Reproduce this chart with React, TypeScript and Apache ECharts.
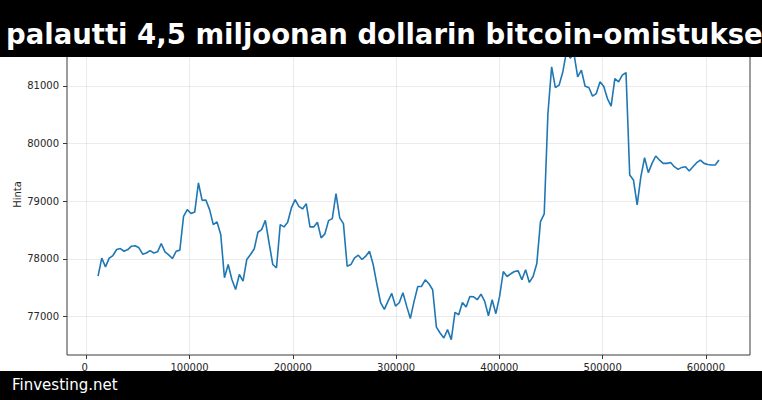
import { useEffect, useRef } from "react";
import * as echarts from "echarts";

const LINE = "#1f77b4";
const TEXT = "#262626";
const SPINE = "#3a3a3a";
const GRID = "rgba(0,0,0,0.08)";
const FONT = "'DejaVu Sans', sans-serif";

const TITLE = "palautti 4,5 miljoonan dollarin bitcoin-omistukse";
const SOURCE = "Finvesting.net";
const Y_NAME = "Hinta";

// x-arvot (sekunteja), luettu kuvasta: tasaväli 3600
const X_VALUES = [
  11400, 15000, 18600, 22200, 25800, 29400, 33000, 36600, 40200, 43800,
  47400, 51000, 54600, 58200, 61800, 65400, 69000, 72600, 76200, 79800,
  83400, 87000, 90600, 94200, 97800, 101400, 105000, 108600, 112200, 115800,
  119400, 123000, 126600, 130200, 133800, 137400, 141000, 144600, 148200, 151800,
  155400, 159000, 162600, 166200, 169800, 173400, 177000, 180600, 184200, 187800,
  191400, 195000, 198600, 202200, 205800, 209400, 213000, 216600, 220200, 223800,
  227400, 231000, 234600, 238200, 241800, 245400, 249000, 252600, 256200, 259800,
  263400, 267000, 270600, 274200, 277800, 281400, 285000, 288600, 292200, 295800,
  299400, 303000, 306600, 310200, 313800, 317400, 321000, 324600, 328200, 331800,
  335400, 339000, 342600, 346200, 349800, 353400, 357000, 360600, 364200, 367800,
  371400, 375000, 378600, 382200, 385800, 389400, 393000, 396600, 400200, 403800,
  407400, 411000, 414600, 418200, 421800, 425400, 429000, 432600, 436200, 439800,
  443400, 447000, 450600, 454200, 457800, 461400, 465000, 468600, 472200, 475800,
  479400, 483000, 486600, 490200, 493800, 497400, 501000, 504600, 508200, 511800,
  515400, 519000, 522600, 526200, 529800, 533400, 537000, 540600, 544200, 547800,
  551400, 555000, 558600, 562200, 565800, 569400, 573000, 576600, 580200, 583800,
  587400, 591000, 594600, 598200, 601800, 605400, 609000, 612600,
];

const PRICES = [
  77698, 78010, 77860, 78010, 78056, 78160, 78177, 78130, 78160, 78218,
  78225, 78190, 78080, 78100, 78140, 78100, 78120, 78264, 78120, 78068,
  78004, 78130, 78150, 78737, 78853, 78784, 78810, 79315, 79014, 79020,
  78853, 78593, 78640, 78420, 77670, 77900, 77640, 77467, 77727, 77611,
  77987, 78074, 78170, 78460, 78506, 78668, 78276, 77900, 77843, 78593,
  78553, 78633, 78882, 79026, 78910, 78864, 78957, 78553, 78553, 78633,
  78363, 78431, 78662, 78697, 79130, 78709, 78610, 77871, 77900, 78016,
  78062, 77987, 78045, 78131, 77900, 77554, 77237, 77121, 77265, 77398,
  77178, 77237, 77410, 77178, 76965, 77260, 77519, 77519, 77635, 77566,
  77462, 76815, 76711, 76625, 76770, 76597, 77069, 77029, 77242, 77161,
  77346, 77340, 77289, 77387, 77260, 77012, 77289, 77047, 77346, 77779,
  77692, 77739, 77779, 77790, 77635, 77808, 77589, 77692, 77912, 78645,
  78778, 80520, 81329, 80971, 81012, 81242, 81600, 81480, 81560, 81156,
  81272, 80994, 80971, 80821, 80867, 81069, 80994, 80780, 80648, 81127,
  81069, 81185, 81231, 79454, 79368, 78935, 79424, 79753, 79494, 79655,
  79783, 79713, 79655, 79655, 79672, 79597, 79551, 79585, 79597, 79523,
  79597, 79667, 79713, 79655, 79637, 79626, 79626, 79713,
];

const X_TICKS = [0, 100000, 200000, 300000, 400000, 500000, 600000];
const Y_TICKS = [77000, 78000, 79000, 80000, 81000];
const X_MIN = -18660;
const X_MAX = 642660;
const Y_MIN = 76330;
const Y_MAX = 81900;

const GRID_LEFT = 67;
const GRID_RIGHT = 12;
const GRID_TOP = 34;
const GRID_BOTTOM = 45;
const HEIGHT = 400;

export default function App() {
  const elRef = useRef<HTMLDivElement>(null);

  useEffect(() => {
    const el = elRef.current;
    if (!el) return;
    const chart = echarts.init(el, undefined, { renderer: "svg" });

    const labelStyle = { color: TEXT, fontSize: 10, fontFamily: FONT };

    chart.setOption({
      animation: false,
      backgroundColor: "#ffffff",
      textStyle: { fontFamily: FONT },
      // yläreuna jää otsikkopalkin alle, kuten alkuperäisessä
      grid: {
        left: GRID_LEFT,
        right: GRID_RIGHT,
        top: GRID_TOP,
        bottom: GRID_BOTTOM,
        outerBoundsMode: "none",
        containLabel: false,
        show: true,
        borderColor: SPINE,
        borderWidth: 1,
      },
      xAxis: {
        type: "value",
        min: X_MIN,
        max: X_MAX,
        axisLine: { show: false, onZero: false },
        axisTick: { show: true, length: 4, lineStyle: { color: SPINE }, customValues: X_TICKS },
        // nollan label ei piirry customValuesin kautta -> lisätään grafiikkana
        axisLabel: {
          ...labelStyle,
          margin: 7,
          hideOverlap: false,
          customValues: X_TICKS.slice(1),
          formatter: (v: number) => String(Math.round(v)),
        },
        splitLine: { show: true, lineStyle: { color: GRID, width: 1 } },
      },
      yAxis: {
        type: "value",
        min: Y_MIN,
        max: Y_MAX,
        name: Y_NAME,
        nameLocation: "middle",
        nameGap: 45,
        nameMoveOverlap: false,
        nameTextStyle: labelStyle,
        axisLine: { show: false, onZero: false },
        axisTick: { show: true, length: 4, lineStyle: { color: SPINE }, customValues: Y_TICKS },
        axisLabel: {
          ...labelStyle,
          margin: 8,
          customValues: Y_TICKS,
          formatter: (v: number) => String(v),
        },
        splitLine: { show: true, lineStyle: { color: GRID, width: 1 } },
      },
      series: [
        {
          type: "line",
          data: X_VALUES.map((x, i) => [x, PRICES[i]]),
          showSymbol: false,
          clip: true,
          lineStyle: { color: LINE, width: 1.6 },
        },
      ],
    });

    const px = chart.convertToPixel({ xAxisIndex: 0 }, X_TICKS[0]);
    const zeroX = typeof px === "number" && Number.isFinite(px) ? px : 85.5;
    const labelTop = HEIGHT - GRID_BOTTOM + 7;

    chart.setOption({
      graphic: [
        { type: "rect", z: 100, shape: { x: 0, y: 0, width: 762, height: 57 }, style: { fill: "#000" } },
        {
          type: "text",
          z: 101,
          x: 6,
          y: 34,
          style: { text: TITLE, fill: "#fff", font: `bold 27.5px ${FONT}`, verticalAlign: "middle" },
        },
        { type: "rect", z: 100, shape: { x: 0, y: 371, width: 762, height: 29 }, style: { fill: "#000" } },
        {
          type: "text",
          z: 101,
          x: 12,
          y: 385,
          style: { text: SOURCE, fill: "#fff", font: `15px ${FONT}`, verticalAlign: "middle" },
        },
        {
          type: "text",
          z: 102,
          x: zeroX,
          y: labelTop,
          style: { text: "0 ", fill: TEXT, font: `10px ${FONT}`, align: "center", verticalAlign: "top" },
        },
      ],
    });

    return () => chart.dispose();
  }, []);

  return <div ref={elRef} style={{ position: "fixed", left: 0, top: 0, width: 762, height: 400 }} />;
}
